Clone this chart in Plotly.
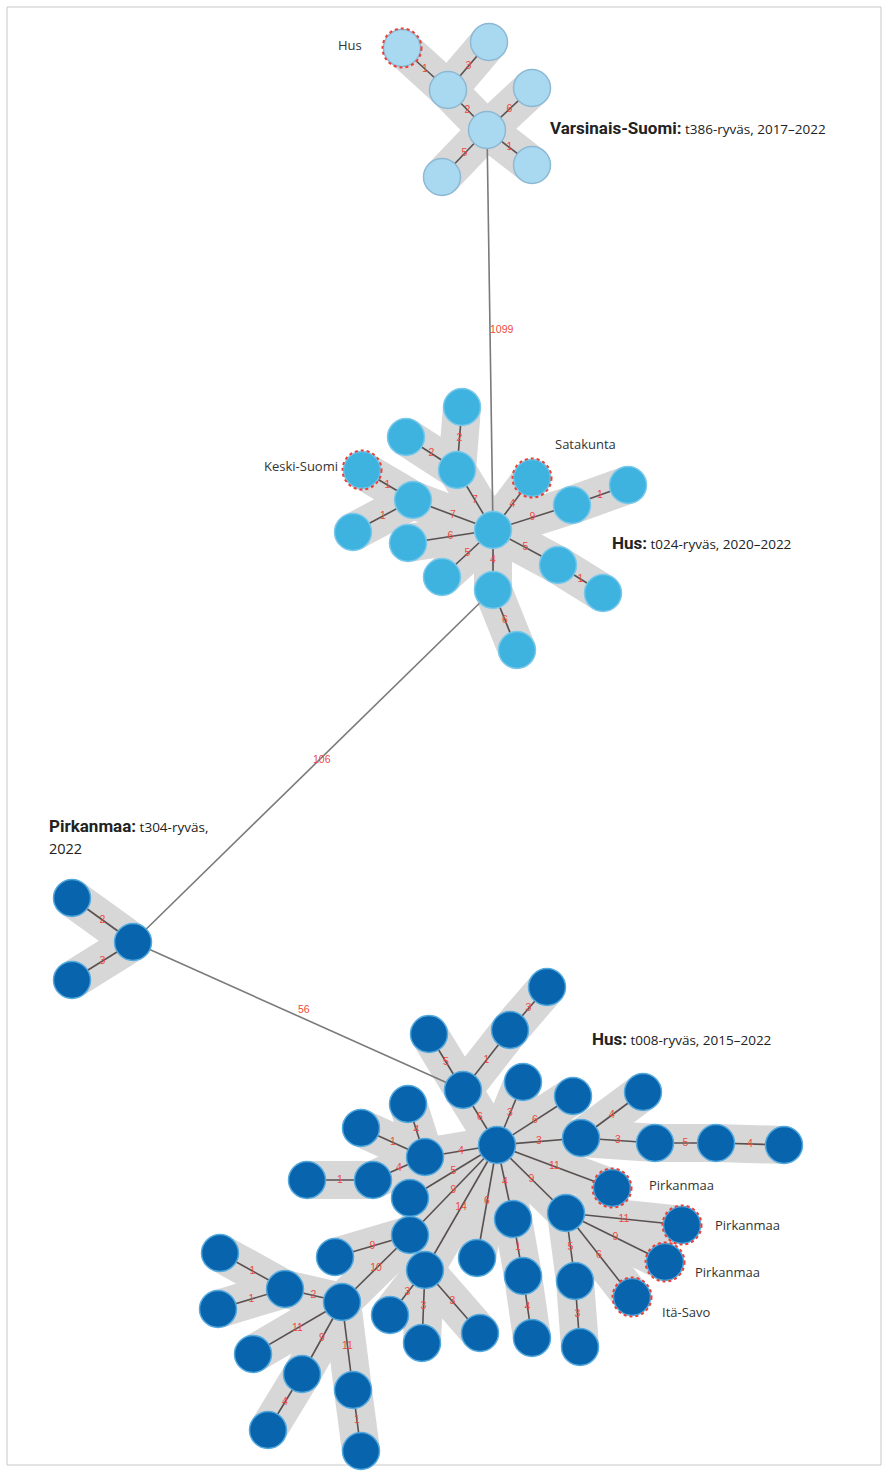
import plotly.graph_objects as go

# ---------------- data ----------------
# node ids, layout coordinates (network layout), cluster group, highlighted (other region) flag
node_id = ["T0", "T1", "T2", "T3", "T4", "T5", "T6",
           "M0", "M1", "M2", "M3", "M4", "M5", "M6", "M7", "M8", "M9", "M10", "M11", "M12", "M13", "M14", "M15",
           "P0", "P1", "P2",
           "BH", "Ba", "Bb", "Bc", "Bd", "Be", "Bf", "Bj", "Bk", "Bl", "Bm", "Bn", "Bh", "Bo", "Bi", "Bp", "Bq",
           "Br", "Bs", "Bz", "Bcc", "Bdd", "Bee", "Bx", "Bt", "Bv", "By", "Bu", "Bw", "Bff",
           "BP1", "BP2", "BP3", "BIS", "Baa", "Bbb", "Bgg", "Bhh", "Bii", "Bjj", "Bkk", "Bll", "Bmm", "Bnn"]
node_x = [487, 402, 448, 489, 532, 442, 532,
          493, 462, 406, 457, 362, 413, 353, 408, 442, 493, 517, 532, 572, 628, 558, 603,
          133, 72, 72,
          497, 547, 510, 429, 463, 523, 573, 581, 643, 655, 716, 784, 408, 361, 425, 373, 307,
          410, 410, 425, 390, 422, 480, 477, 513, 523, 532, 566, 575, 580,
          612, 682, 665, 632, 335, 342, 220, 285, 218, 253, 302, 353, 268, 361]
node_y = [130, 48, 90, 42, 88, 177, 165,
          530, 407, 437, 470, 470, 500, 532, 543, 577, 590, 650, 478, 505, 485, 565, 593,
          942, 898, 980,
          1145, 987, 1030, 1034, 1090, 1082, 1096, 1138, 1092, 1143, 1143, 1145, 1104, 1128, 1157, 1180, 1180,
          1198, 1235, 1270, 1315, 1343, 1333, 1258, 1219, 1276, 1338, 1213, 1281, 1347,
          1188, 1225, 1262, 1297, 1257, 1302, 1253, 1289, 1309, 1354, 1374, 1390, 1430, 1451]
node_group = ["t386"] * 7 + ["t024"] * 16 + ["t304"] * 3 + ["t008"] * 44
highlighted = ["T1", "M4", "M11", "BP1", "BP2", "BP3", "BIS"]

# edges inside clusters: source, target, allele distance
edge_src = ["T1", "T2", "T2", "T0", "T0", "T0",
            "M0", "M3", "M3", "M0", "M5", "M5", "M0", "M0", "M0", "M9", "M0", "M0", "M12", "M0", "M14",
            "P0", "P0",
            "Ba", "Bb", "Bc", "Bd", "Be", "Bf", "Bj", "Bj", "Bj", "Bl", "Bm",
            "BH", "BH", "Bu", "Bu", "Bu", "Bu", "Bw", "BH", "Bt", "Bv", "BH", "BH",
            "Bz", "Bz", "Bz", "BH", "BH", "BH", "Bi", "Bi", "Bi", "Bp",
            "Bs", "Bs", "Bbb", "Bhh", "Bhh", "Bbb", "Bbb", "Bbb", "Bkk", "Bll"]
edge_dst = ["T2", "T3", "T0", "T4", "T5", "T6",
            "M3", "M2", "M1", "M5", "M4", "M6", "M7", "M8", "M9", "M10", "M11", "M12", "M13", "M14", "M15",
            "P1", "P2",
            "Bb", "Bd", "Bd", "BH", "BH", "BH", "BH", "Bk", "Bl", "Bm", "Bn",
            "BP1", "Bu", "BP2", "BP3", "BIS", "Bw", "Bff", "Bt", "Bv", "By", "Bx", "Bz",
            "Bcc", "Bdd", "Bee", "Bs", "Br", "Bi", "Bh", "Bo", "Bp", "Bq",
            "Baa", "Bbb", "Bhh", "Bgg", "Bii", "Bjj", "Bkk", "Bll", "Bmm", "Bnn"]
edge_dist = [1, 3, 2, 6, 5, 1,
             7, 2, 2, 7, 1, 1, 6, 5, 4, 6, 4, 9, 1, 5, 1,
             2, 3,
             3, 1, 5, 6, 3, 6, 3, 4, 3, 5, 4,
             11, 9, 11, 9, 6, 5, 3, 4, 1, 4, 6, 14,
             3, 3, 3, 9, 5, 4, 4, 1, 4, 1,
             9, 10, 2, 1, 1, 11, 9, 11, 4, 1]

# links between clusters
link_src = ["T0", "M9", "P0"]
link_dst = ["M0", "P0", "Bd"]
link_dist = [1099, 106, 56]

# cluster titles
title_bold = ["Varsinais-Suomi:", "Hus:", "Pirkanmaa:", "Hus:"]
title_rest = ["t386-ryväs, 2017–2022", "t024-ryväs, 2020–2022", "t304-ryväs,", "t008-ryväs, 2015–2022"]
title_x = [548, 610, 47, 590]
title_y = [128, 543, 826, 1039]
title_extra = "2022"

# region labels for highlighted nodes
region_text = ["Hus", "Keski-Suomi", "Satakunta", "Pirkanmaa", "Pirkanmaa", "Pirkanmaa", "Itä-Savo"]

# ---------------- styles ----------------
group_fill = {"t386": "#a9d9f1", "t024": "#3eb3e0", "t304": "#0865ad", "t008": "#0865ad"}
group_line = {"t386": "#8db8d3", "t024": "#79c8ea", "t304": "#53a9de", "t008": "#53a9de"}
NODE_D = 37
pos = {n: (x, y) for n, x, y in zip(node_id, node_x, node_y)}

fig = go.Figure()

# grey bands behind cluster edges
bx, by = [], []
for a, b in zip(edge_src, edge_dst):
    bx += [pos[a][0], pos[b][0], None]
    by += [pos[a][1], pos[b][1], None]
fig.add_trace(go.Scatter(x=bx, y=by, mode="lines", line=dict(color="#d7d7d7", width=38),
                         hoverinfo="skip", showlegend=False))

# long links
lx, ly = [], []
for a, b in zip(link_src, link_dst):
    lx += [pos[a][0], pos[b][0], None]
    ly += [pos[a][1], pos[b][1], None]
fig.add_trace(go.Scatter(x=lx, y=ly, mode="lines", line=dict(color="#7a7a7a", width=1.6),
                         hoverinfo="skip", showlegend=False))

# cluster edges
ex, ey = [], []
for a, b in zip(edge_src, edge_dst):
    ex += [pos[a][0], pos[b][0], None]
    ey += [pos[a][1], pos[b][1], None]
fig.add_trace(go.Scatter(x=ex, y=ey, mode="lines", line=dict(color="#5a5050", width=1.6),
                         hoverinfo="skip", showlegend=False))

# edge labels
mx = [(pos[a][0] + pos[b][0]) / 2 for a, b in zip(edge_src, edge_dst)]
my = [(pos[a][1] + pos[b][1]) / 2 for a, b in zip(edge_src, edge_dst)]
fig.add_trace(go.Scatter(x=mx, y=my, mode="text", text=[str(d) for d in edge_dist],
                         textfont=dict(color="#ee4a3f", size=10.5, family="Liberation Sans"),
                         hoverinfo="skip", showlegend=False))

# long link labels
lmx = [(pos[a][0] + pos[b][0]) / 2 for a, b in zip(link_src, link_dst)]
lmy = [(pos[a][1] + pos[b][1]) / 2 for a, b in zip(link_src, link_dst)]
fig.add_trace(go.Scatter(x=lmx, y=lmy, mode="text", text=[str(d) for d in link_dist],
                         textposition=["middle right", "top right", "top right"],
                         textfont=dict(color="#ee4a3f", size=10.5, family="Liberation Sans"),
                         hoverinfo="skip", showlegend=False))

# nodes by group
for g in ["t386", "t024", "t304", "t008"]:
    xs = [x for x, gg in zip(node_x, node_group) if gg == g]
    ys = [y for y, gg in zip(node_y, node_group) if gg == g]
    fig.add_trace(go.Scatter(x=xs, y=ys, mode="markers",
                             marker=dict(size=NODE_D, color=group_fill[g],
                                         line=dict(color=group_line[g], width=1.5)),
                             hoverinfo="skip", showlegend=False))

# dotted red rings on nodes found in other regions
r = NODE_D / 2 + 1
for n in highlighted:
    x, y = pos[n]
    fig.add_shape(type="circle", xref="x", yref="y", x0=x - r, x1=x + r, y0=y - r, y1=y + r,
                  line=dict(color="#e8413a", width=2, dash="dot"), layer="above")

# region labels next to highlighted nodes
label_dx = [-38, -22, 21, 35, 31, 28, 28]
label_dy = [-3, -4, -34, -3, 0, 10, 15]
label_anchor = ["right", "right", "left", "left", "left", "left", "left"]
for n, t, dx, dy, anc in zip(highlighted, region_text, label_dx, label_dy, label_anchor):
    x, y = pos[n]
    fig.add_annotation(x=x + dx, y=y + dy, xref="x", yref="y", text=t, showarrow=False,
                       xanchor=anc, yanchor="middle",
                       font=dict(size=13, color="#333333", family="Open Sans"))

# cluster titles
for tb, tr, x, y in zip(title_bold, title_rest, title_x, title_y):
    fig.add_annotation(x=x, y=y, xref="x", yref="y",
                       text=f"<b><span style='font-family:Roboto;font-size:17px'>{tb}</span></b> {tr}",
                       showarrow=False, xanchor="left", yanchor="middle", align="left",
                       font=dict(size=13.5, color="#222222", family="Open Sans"))
fig.add_annotation(x=title_x[2], y=title_y[2] + 22, xref="x", yref="y", text=title_extra,
                   showarrow=False, xanchor="left", yanchor="middle",
                   font=dict(size=14.5, color="#222222", family="Open Sans"))

# thin frame
fig.add_shape(type="rect", xref="x", yref="y", x0=7, x1=881, y0=7, y1=1465,
              line=dict(color="#c8c8c8", width=1), layer="below")

fig.update_layout(
    width=888, height=1472, margin=dict(l=0, r=0, t=0, b=0),
    paper_bgcolor="white", plot_bgcolor="white",
    xaxis=dict(range=[0, 888], visible=False, fixedrange=True),
    yaxis=dict(range=[1472, 0], visible=False, fixedrange=True),
    showlegend=False,
)

fig.write_html("out.html")
